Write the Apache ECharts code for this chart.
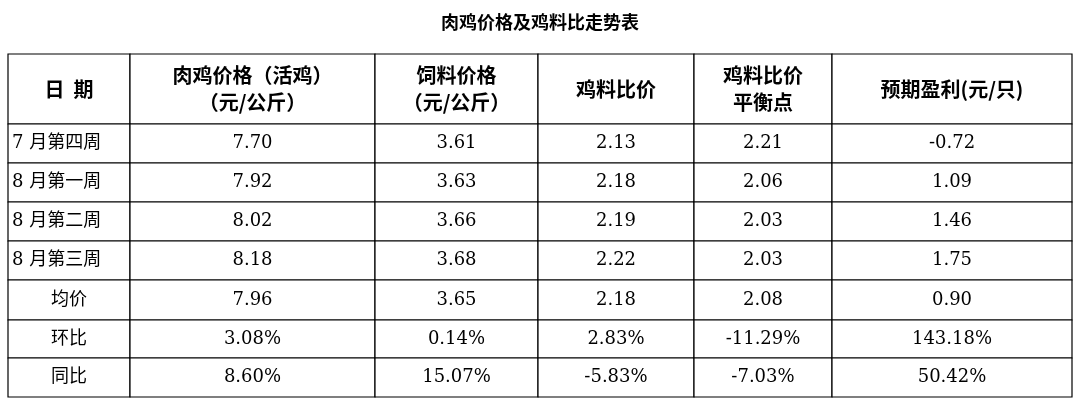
<!DOCTYPE html>
<html><head><meta charset="utf-8">
<script src="https://cdn.jsdelivr.net/npm/echarts@6/dist/echarts.min.js"></script>
<style>html,body{margin:0;background:#fff}#c{width:1080px;height:400px}</style>
</head><body><div id="c"></div>
<script>
const title = '肉鸡价格及鸡料比走势表';
const headers = ['日  期', '肉鸡价格（活鸡）\n（元/公斤）', '饲料价格\n（元/公斤）', '鸡料比价', '鸡料比价\n平衡点', '预期盈利(元/只)'];
const rowLabels = ['7 月第四周', '8 月第一周', '8 月第二周', '8 月第三周', '均价', '环比', '同比'];
const chickenPrice = ['7.70', '7.92', '8.02', '8.18', '7.96', '3.08%', '8.60%'];
const feedPrice = ['3.61', '3.63', '3.66', '3.68', '3.65', '0.14%', '15.07%'];
const ratio = ['2.13', '2.18', '2.19', '2.22', '2.18', '2.83%', '-5.83%'];
const balance = ['2.21', '2.06', '2.03', '2.03', '2.08', '-11.29%', '-7.03%'];
const profit = ['-0.72', '1.09', '1.46', '1.75', '0.90', '143.18%', '50.42%'];

// layout (axis units)
const colEdges = [0, 122, 367, 530, 686, 824, 1064];
const rowEdges = [0, 70, 109, 148, 187, 226, 266, 304, 343];

const columns = [rowLabels, chickenPrice, feedPrice, ratio, balance, profit];
const data = [];
headers.forEach((h, c) => data.push([c, 0, h]));
columns.forEach((col, c) => col.forEach((v, r) => data.push([c, r + 1, v])));

const chart = echarts.init(document.getElementById('c'));
chart.setOption({
  animation: false,
  title: {text: title, left: 'center', top: 8, textStyle: {fontSize: 18, fontWeight: 'bold', color: '#000', fontFamily: 'Noto Sans CJK SC'}},
  grid: {left: 8, top: 54, width: 1064, height: 343},
  xAxis: {type: 'value', min: 0, max: 1064, show: false},
  yAxis: {type: 'value', min: 0, max: 343, inverse: true, show: false},
  series: [{
    type: 'custom',
    data: data,
    renderItem: function (params, api) {
      const c = api.value(0), r = api.value(1);
      const p0 = api.coord([colEdges[c], rowEdges[r]]);
      const p1 = api.coord([colEdges[c + 1], rowEdges[r + 1]]);
      const header = r === 0;
      const txt = data[params.dataIndex][2];
      const alignLeft = (c === 0 && !header && r <= 4);
      return {
        type: 'group',
        children: [
          {type: 'rect', shape: {x: p0[0], y: p0[1], width: p1[0] - p0[0], height: p1[1] - p0[1]},
           style: {fill: '#fff', stroke: '#000', lineWidth: 1.2}},
          {type: 'text', style: {
            text: txt,
            x: alignLeft ? p0[0] + 4 : (p0[0] + p1[0]) / 2,
            y: (p0[1] + p1[1]) / 2,
            align: alignLeft ? 'left' : 'center', verticalAlign: 'middle',
            fontSize: header ? 20 : 18, lineHeight: 27,
            fontWeight: header ? 'bold' : 'normal',
            fontFamily: header ? 'Noto Sans CJK SC' : 'DejaVu Serif, Noto Sans CJK SC',
            fill: '#000'
          }}
        ]
      };
    }
  }]
});
</script></body></html>
